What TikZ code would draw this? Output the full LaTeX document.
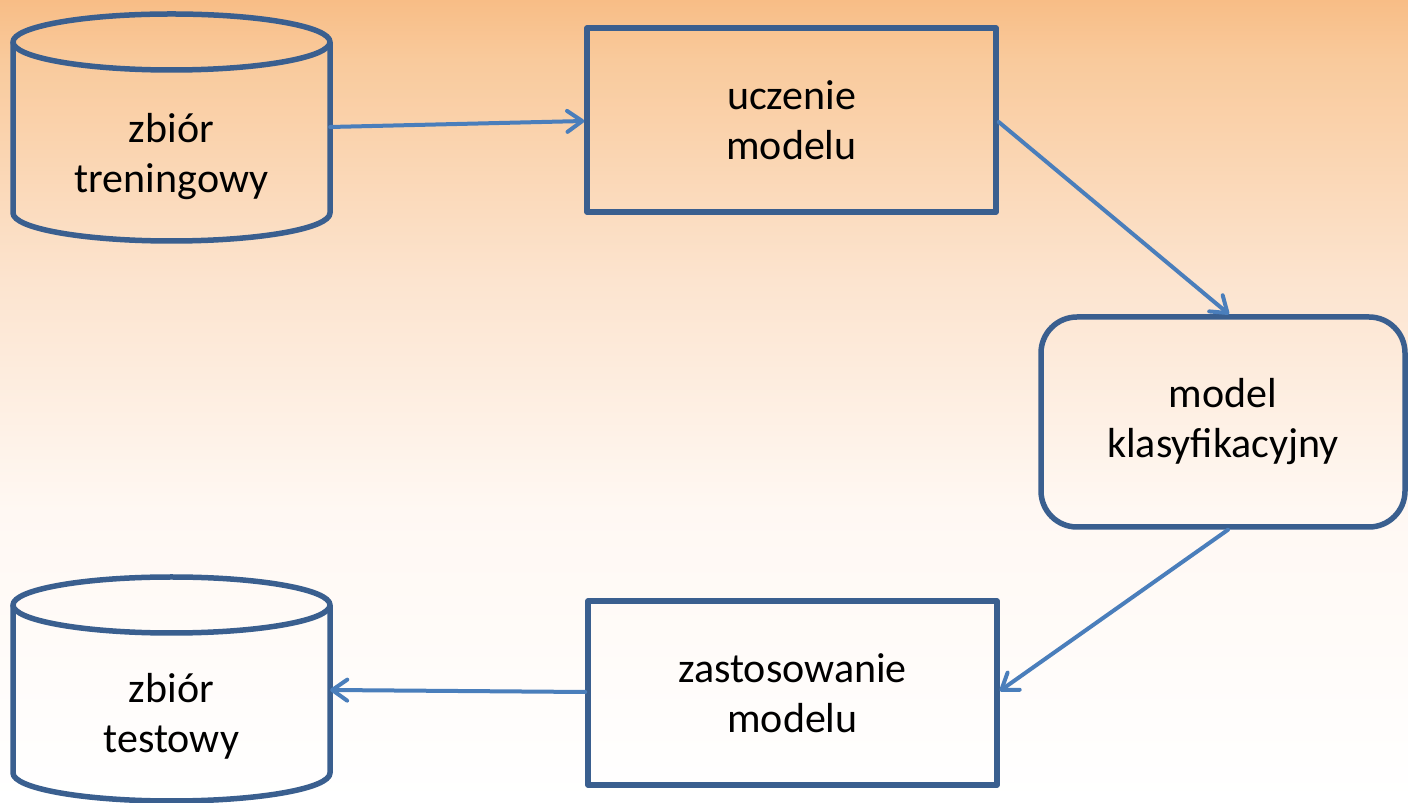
\documentclass[tikz,border=0pt]{standalone}
\usepackage{fontspec}
\setmainfont{Carlito}
\usetikzlibrary{arrows.meta}

\definecolor{frameblue}{HTML}{3A5F8F}
\definecolor{linkblue}{HTML}{4A7EBB}
\definecolor{peachA}{RGB}{255,248,243}
\definecolor{peachB}{RGB}{252,228,207}
\definecolor{peachC}{RGB}{249,202,156}
\definecolor{peachD}{RGB}{248,189,134}

% background: peach at the top fading to white at the bottom
% (the path is mapped onto the 25bp..75bp band of the shading)
\pgfdeclareverticalshading{bgpeach}{100bp}{%
  color(0bp)=(white); color(25bp)=(white); color(43.25bp)=(peachA);
  color(57.5bp)=(peachB); color(71.25bp)=(peachC); color(75bp)=(peachD);
  color(100bp)=(peachD)}

\tikzset{
  frame/.style={draw=frameblue, line width=5.5pt, line join=round},
  txt/.style={font=\fontsize{42}{50}\selectfont, align=center, text=black},
  boxnode/.style={frame, txt, rectangle, minimum width=409pt, minimum height=184pt},
  link/.style={draw=linkblue, line width=4pt, line cap=round,
    -{Straight Barb[length=15pt, width=21pt, line cap=round, line join=round]}}
}

\begin{document}
\begin{tikzpicture}[x=1pt, y=1pt]
\useasboundingbox (0,0) rectangle (1408,803);
\shade[shading=bgpeach] (0,0) rectangle (1408,803);

% training set cylinder
\draw[frame] (171.5,761) ellipse [x radius=158.5, y radius=28];
\draw[frame] (13,761) -- (13,590)
  arc[start angle=180, end angle=360, x radius=158.5, y radius=28] -- (330,761);
\node[txt, minimum width=317pt] (c1) at (171.5,646.5) {zbiór\\treningowy};

% test set cylinder
\draw[frame] (171.5,198) ellipse [x radius=158.5, y radius=28];
\draw[frame] (13,198) -- (13,30)
  arc[start angle=180, end angle=360, x radius=158.5, y radius=28] -- (330,198);
\node[txt, minimum width=317pt] (c2) at (171.5,87) {zbiór\\testowy};

% process boxes
\node[boxnode] (u) at (791.5,683) {uczenie\\modelu};
\node[frame, txt, rectangle, rounded corners=36pt, minimum width=364pt,
      minimum height=210pt] (m) at (1223,381) {model\\klasyfikacyjny};
\node[boxnode] (z) at (792.5,110) {zastosowanie\\modelu};

% flow
\draw[link] ([yshift=29.5pt]c1.east) -- ([yshift=-1pt]u.west);
\draw[link] ([yshift=-2pt]u.east) -- ([xshift=6pt]m.north);
\draw[link] ([xshift=5pt]m.south) -- ([yshift=2pt]z.east);
\draw[link] ([yshift=1pt]z.west) -- ([yshift=26pt]c2.east);
\end{tikzpicture}
\end{document}
